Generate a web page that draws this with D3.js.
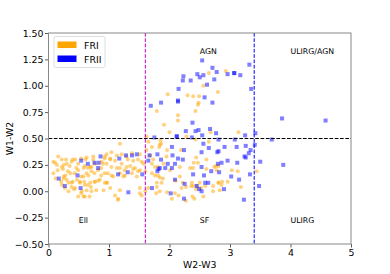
<!DOCTYPE html>
<html>
<head>
<meta charset="utf-8">
<script src="https://cdn.jsdelivr.net/npm/d3@7"></script>
<style>
  body { margin: 0; background: #fff; }
  svg { display: block; font-family: "DejaVu Sans", sans-serif; }
</style>
</head>
<body>
<svg width="390" height="274"></svg>
<script>
// FRI sources (W2-W3, W1-W2)
var friPoints = [
  [2.65,1.12],[2.56,1.00],[2.80,0.94],[1.97,0.92],[2.30,0.91],[2.39,0.90],[2.49,0.90],[2.48,0.84],[2.47,0.82],
  [1.79,0.76],[2.43,0.76],[2.14,0.72],[2.14,0.67],[1.91,0.63],[2.00,0.56],[2.28,0.52],[2.68,0.56],[2.43,0.49],
  [1.65,0.47],[1.86,0.45],[1.62,0.52],[2.93,1.14],
  [3.14,0.56],[2.77,0.24],[2.81,0.24],[3.03,0.20],[3.13,0.19],[3.44,0.19],[2.81,0.08],[2.87,0.09],[2.96,0.09],
  [2.86,0.06],[3.18,0.04],[2.83,0.01],[2.41,-0.07],[2.38,-0.05],
  [1.85,0.48],[1.96,0.39],[2.19,0.39],[2.65,0.47],[2.44,0.32],[2.40,0.27],[2.47,0.27],[2.34,0.22],[2.39,0.22],
  [2.61,0.30],[2.61,0.21],[2.74,0.23],[2.78,0.20],[1.84,0.13],[1.89,0.12],[2.17,0.14],[2.10,0.10],[2.22,0.08],
  [2.20,0.03],[2.27,0.04],[2.37,0.08],[2.36,0.05],[2.39,0.05],[2.45,0.05],[2.50,0.08],[2.44,0.02],[2.52,0.03],
  [2.59,0.05],[2.72,0.05],[2.81,0.08],[1.87,0.08],[1.96,-0.01],[2.27,-0.09],[2.15,-0.04],[2.56,-0.05],[2.72,0.00],
  [1.18,0.45],[1.71,0.42],[1.83,0.42],[1.04,0.37],[0.93,0.33],[1.02,0.30],[1.10,0.29],[1.21,0.26],[1.31,0.30],
  [1.40,0.29],[1.48,0.30],[1.54,0.28],[1.71,0.26],[1.76,0.23],[1.04,0.23],[1.18,0.22],[1.29,0.23],[1.40,0.21],
  [1.48,0.19],[1.60,0.19],[1.71,0.17],[0.98,0.17],[1.04,0.15],[1.26,0.15],[0.97,0.08],[1.76,0.15],[1.81,0.15],
  [1.51,0.03],[1.18,0.01],[1.51,-0.02],[1.78,-0.02],[1.15,-0.07],[1.79,0.08],
  [0.16,0.33],[0.11,0.27],[0.15,0.20],[0.25,0.25],[0.24,0.21],[0.32,0.19],[0.28,0.15],[0.25,0.12],[0.21,0.09],
  [0.33,0.08],[0.38,0.04],[0.42,0.02],[0.49,-0.05],[0.60,-0.05],[0.63,0.01],[0.71,0.00],[0.70,0.04],[0.76,0.09],
  [0.82,0.10],[0.87,0.15],[0.93,0.17],[0.96,0.08],[0.87,0.22],[0.90,0.26],[0.93,0.31],[0.74,0.30],[0.61,0.30],
  [0.60,0.24],[0.65,0.22],[0.71,0.19],[0.63,0.17],[0.54,0.14],[0.52,0.09],[0.40,0.09],[0.43,0.17],[0.46,0.22],
  [0.49,0.26],[0.35,0.24],[0.40,0.30],[0.29,0.30],[0.54,0.31],[0.71,0.23],[0.76,0.17],[0.59,0.09],[0.65,0.06],
  [0.44,0.30],[0.79,0.01],[0.68,-0.05],[0.54,-0.02],
  [0.08,0.28],[0.14,0.25],[0.22,0.23],[0.30,0.26],[0.38,0.28],[0.63,0.32],[0.74,0.33],[0.96,0.35],[1.02,0.31],
  [1.13,0.34],[1.21,0.35],[1.29,0.33],[1.38,0.36],[1.51,0.35],[1.62,0.39],[1.35,0.24],[1.43,0.22],[1.26,0.20],
  [1.13,0.22],[0.96,0.26],[0.88,0.28],[0.82,0.20],[0.66,0.15],[0.58,0.14],[0.47,0.11],[0.38,0.08],[0.30,0.11],
  [0.25,0.14],[0.36,0.17],[0.49,0.20],[0.58,0.22],[0.69,0.23],[0.77,0.26],[0.52,0.08],[0.60,0.06],[0.69,0.08],
  [0.77,0.09],[0.85,0.11],[0.93,0.08],[0.44,0.03],[0.55,0.00],[0.58,-0.05],[1.10,-0.04],[1.02,0.03],[0.91,0.01],
  [0.33,0.00],[0.27,0.03],[0.22,0.30],[1.51,0.20],[1.57,0.26],[1.18,0.17],[1.24,0.14],[1.07,0.14],[1.38,0.17],
  [1.46,0.14],[1.68,0.34],[1.73,0.30],[1.84,0.44],[1.95,0.33],[1.90,0.26],[1.81,0.23],[2.01,0.20],[2.17,0.23],
  [1.65,0.03],[1.60,0.00],[1.54,-0.04],[1.79,0.04],[1.84,0.00],[1.15,-0.08],[2.04,-0.07],[2.09,-0.02],
  [0.22,0.06],[0.08,0.17],[0.12,0.12]
];

// FRII sources
var friiPoints = [
  [2.54,1.24],[2.71,1.17],[2.78,1.13],[2.23,1.09],[2.46,1.11],[2.56,1.10],[2.50,1.08],[2.22,1.05],[2.35,1.05],
  [2.74,1.06],[2.62,1.01],[2.15,0.97],[2.58,0.89],[2.14,0.86],[2.14,0.85],[1.86,0.84],[2.71,0.84],[1.69,0.81],
  [2.38,0.65],[2.27,0.57],[2.48,0.58],[2.43,0.57],[2.67,0.59],[2.77,0.55],[2.54,0.53],[2.12,0.52],[2.12,0.52],
  [2.37,0.51],[1.75,0.51],[2.56,0.45],[2.81,0.49],
  [3.32,1.20],[2.96,1.11],[3.07,1.12],[3.07,1.12],[3.17,1.10],[3.35,0.97],[3.86,0.69],[4.58,0.67],
  [3.25,0.53],[3.42,0.55],[3.08,0.49],[3.69,0.49],[3.41,0.44],[2.91,0.42],[3.11,0.42],[3.26,0.43],[3.34,0.39],
  [2.81,0.38],[2.79,0.37],[3.31,0.36],[3.24,0.33],[3.26,0.32],[2.96,0.29],[3.12,0.27],[2.86,0.27],[2.80,0.26],
  [3.50,0.28],[3.88,0.25],[3.33,0.16],[3.02,0.14],[3.15,0.11],[3.48,0.05],[2.90,0.02],[3.23,-0.08],
  [2.04,0.42],[2.24,0.39],[2.65,0.41],[2.53,0.37],[2.05,0.34],[2.14,0.31],[2.22,0.30],[1.86,0.30],[1.97,0.26],
  [2.09,0.26],[2.04,0.22],[1.93,0.22],[1.84,0.22],[2.53,0.23],[2.69,0.19],[2.39,0.16],[2.57,0.15],[2.82,0.18],
  [2.09,0.11],[2.25,0.07],[2.59,0.08],[2.64,0.08],[2.45,0.05],[2.49,0.02],[2.53,0.00],[2.02,-0.02],[2.24,-0.07],
  [1.17,0.31],[1.28,0.34],[1.38,0.34],[1.46,0.35],[1.67,0.34],[1.80,0.35],[1.65,0.29],[1.82,0.21],[1.80,0.19],
  [1.31,0.18],[1.15,0.16],[1.55,0.16],[1.71,0.03],[1.32,-0.01],
  [0.54,0.29],[0.65,0.26],[0.76,0.27],[0.86,0.33],[0.83,0.27],[0.82,0.22],[0.48,0.15],[0.17,0.12],[0.27,0.05],
  [0.53,0.03]
];

var xTicks = [0, 1, 2, 3, 4, 5];
var yTicks = [-0.5, -0.25, 0, 0.25, 0.5, 0.75, 1.0, 1.25, 1.5];

// region names: [label, x, y]
var regions = [
  ["AGN", 2.5, 1.3], ["ULIRG/AGN", 4.0, 1.3],
  ["Ell", 0.5, -0.3], ["SF", 2.5, -0.3], ["ULIRG", 4.0, -0.3]
];

var svg = d3.select("svg");
var mLeft = 48.5, mRight = 351, mTop = 33, mBottom = 244;

var x = d3.scaleLinear().domain([0, 5]).range([mLeft, mRight]);
var y = d3.scaleLinear().domain([-0.5, 1.5]).range([mBottom, mTop]);
var fmt = d3.format(".2f");

// axes
var gx = svg.append("g")
    .attr("transform", "translate(0," + mBottom + ")")
    .call(d3.axisBottom(x).tickValues(xTicks).tickFormat(d3.format("d")).tickSize(3.5).tickPadding(2));
var gy = svg.append("g")
    .attr("transform", "translate(" + mLeft + ",0)")
    .call(d3.axisLeft(y).tickValues(yTicks).tickFormat(d => fmt(d).replace("-", "\u2212")).tickSize(3.5).tickPadding(1.5));
[gx, gy].forEach(g => {
    g.select(".domain").remove();
    g.selectAll("line").attr("stroke", "#333").attr("stroke-width", 0.8);
    g.selectAll("text").attr("font-size", 9.4).attr("fill", "#000")
        .attr("font-family", "DejaVu Sans");
});

// points
svg.append("g")
    .selectAll("circle")
    .data(friPoints)
    .enter().append("circle")
    .attr("cx", d => x(d[0]))
    .attr("cy", d => y(d[1]))
    .attr("r", 2)
    .attr("fill", "orange")
    .attr("fill-opacity", 0.5);

svg.append("g")
    .selectAll("rect")
    .data(friiPoints)
    .enter().append("rect")
    .attr("x", d => x(d[0]) - 2)
    .attr("y", d => y(d[1]) - 2)
    .attr("width", 4)
    .attr("height", 4)
    .attr("fill", "blue")
    .attr("fill-opacity", 0.5);

// dividing lines
svg.append("line")
    .attr("x1", x(1.6)).attr("x2", x(1.6))
    .attr("y1", y(1.5)).attr("y2", y(-0.5))
    .attr("stroke", "#bf00bf").attr("stroke-width", 1)
    .attr("stroke-dasharray", "3.7,1.6");
svg.append("line")
    .attr("x1", x(3.4)).attr("x2", x(3.4))
    .attr("y1", y(1.5)).attr("y2", y(-0.5))
    .attr("stroke", "blue").attr("stroke-width", 1)
    .attr("stroke-dasharray", "3.7,1.6");
svg.append("line")
    .attr("x1", x(0)).attr("x2", x(5))
    .attr("y1", y(0.5)).attr("y2", y(0.5))
    .attr("stroke", "#000").attr("stroke-width", 1)
    .attr("stroke-dasharray", "3.7,1.6");

// region labels
svg.append("g")
    .selectAll("text")
    .data(regions)
    .enter().append("text")
    .attr("x", d => x(d[1]))
    .attr("y", d => y(d[2]))
    .attr("font-size", 7.8)
    .text(d => d[0]);

// frame
svg.append("rect")
    .attr("x", mLeft).attr("y", mTop)
    .attr("width", mRight - mLeft).attr("height", mBottom - mTop)
    .attr("fill", "none").attr("stroke", "#888").attr("stroke-width", 1);

// axis titles
svg.append("text")
    .attr("x", (mLeft + mRight) / 2).attr("y", 268)
    .attr("text-anchor", "middle").attr("font-size", 9.4)
    .text("W2-W3");
svg.append("text")
    .attr("transform", "translate(13," + ((mTop + mBottom) / 2) + ") rotate(-90)")
    .attr("text-anchor", "middle").attr("font-size", 9.4)
    .text("W1-W2");

// legend
var legend = svg.append("g");
legend.append("rect")
    .attr("x", 54).attr("y", 36.5).attr("width", 51).attr("height", 31)
    .attr("rx", 2).attr("fill", "#fff").attr("fill-opacity", 0.8)
    .attr("stroke", "#d6d6d6").attr("stroke-width", 0.8);
[["FRI", "orange"], ["FRII", "blue"]].forEach((e, i) => {
    legend.append("rect")
        .attr("x", 57.5).attr("y", 41.5 + i * 14).attr("width", 19).attr("height", 6.5)
        .attr("fill", e[1]);
    legend.append("text")
        .attr("x", 84).attr("y", 48.5 + i * 14)
        .attr("font-size", 9.4)
        .text(e[0]);
});
</script>
</body>
</html>
